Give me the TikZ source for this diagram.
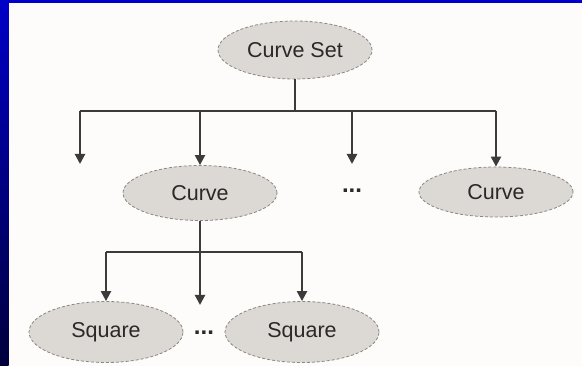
\documentclass[tikz,border=0pt]{standalone}
\usepackage{fontspec}
\setmainfont{Liberation Sans}
\usetikzlibrary{shapes.geometric,arrows.meta}
\definecolor{framebl}{HTML}{0000C8}
\definecolor{framenv}{HTML}{00003C}
\definecolor{paper}{HTML}{FDFCFA}
\definecolor{ovalfill}{HTML}{DCD8D4}
\definecolor{ovaledge}{HTML}{8A8683}
\definecolor{linkgray}{HTML}{3C3A3A}
\definecolor{inkgray}{HTML}{2A2828}
\tikzset{
  oval/.style={ellipse,fill=ovalfill,draw=ovaledge,densely dashed,line width=0.8pt,
    minimum width=154pt,minimum height=58pt,inner sep=0pt,text=inkgray,
    font=\fontsize{21.5}{24}\selectfont},
  link/.style={draw=linkgray,line width=2.2pt},
  feed/.style={link,-{Triangle[width=10pt,length=10pt]}},
  etc/.style={font=\fontsize{24}{26}\selectfont\bfseries,text=inkgray}
}
\begin{document}
\begin{tikzpicture}[x=1pt,y=-1pt]
  % frame
  \fill[paper] (0,0) rectangle (582,366);
  \shade[top color=framebl,bottom color=framenv] (0,0) rectangle (8.7,366);
  \fill[framebl] (0,0) rectangle (582,3);
  \useasboundingbox (0,0) rectangle (582,366);
  % nodes
  \node[oval] (set) at (295,50) {Curve Set};
  \node[oval,minimum height=55pt] (curveA) at (200,193) {Curve};
  \node[oval,minimum height=50pt] (curveB) at (496,192) {Curve};
  \node[oval,minimum height=61pt] (sqA) at (106,332) {Square};
  \node[oval,minimum height=61pt] (sqB) at (302,332) {Square};
  \node[etc] (dotsA) at (352,191) {...};
  \node[etc] (dotsB) at (204,333) {...};
  % first level
  \coordinate (hubA) at (set.center |- 0,111);
  \coordinate (jA1) at (80,111);
  \coordinate (jA2) at (200,111);
  \coordinate (jA3) at (352,111);
  \coordinate (jA4) at (496,111);
  \coordinate (endA1) at (80,164);
  \coordinate (endA3) at (352,164);
  \draw[link] (set) -- (hubA);
  \draw[link] (jA1) -- (jA4);
  \draw[feed] (jA1) -- (endA1);
  \draw[feed] (jA2) -- (curveA);
  \draw[feed] (jA3) -- (endA3);
  \draw[feed] (jA4) -- (curveB);
  % second level
  \coordinate (hubB) at (200,252);
  \coordinate (jB1) at (106,252);
  \coordinate (jB3) at (302,252);
  \coordinate (endB2) at (200,305);
  \draw[link] (curveA) -- (hubB);
  \draw[link] (jB1) -- (jB3);
  \draw[feed] (jB1) -- (sqA);
  \draw[feed] (hubB) -- (endB2);
  \draw[feed] (jB3) -- (sqB);
\end{tikzpicture}
\end{document}
